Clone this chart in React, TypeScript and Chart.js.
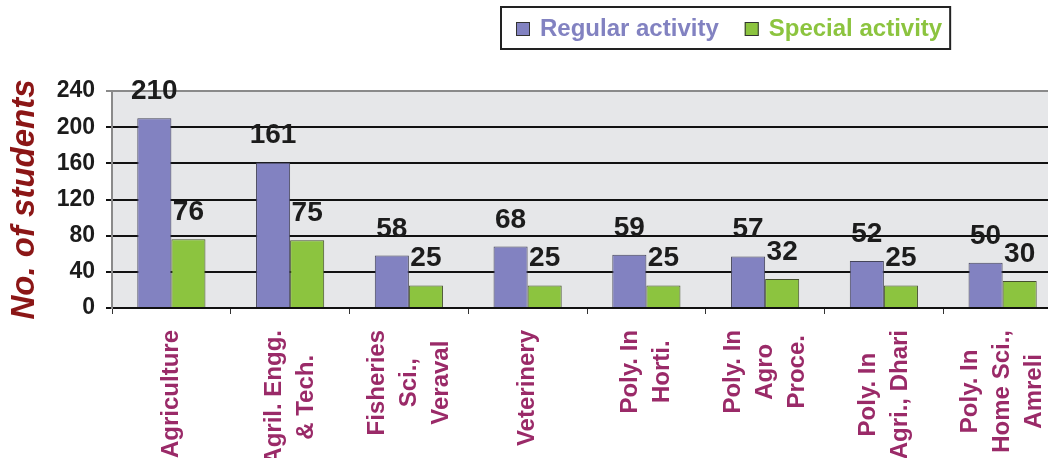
import React, { useEffect, useRef } from "react";
import { Chart, registerables } from "chart.js";

Chart.register(...registerables);

const categories: string[][] = [
  ["Agriculture"],
  ["Agril. Engg.", "& Tech."],
  ["Fisheries", "Sci.,", "Veraval"],
  ["Veterinery"],
  ["Poly. In", "Horti."],
  ["Poly. In", "Agro", "Proce."],
  ["Poly. In", "Agri., Dhari"],
  ["Poly. In", "Home Sci.,", "Amreli"],
];
const seriesNames = ["Regular activity", "Special activity"];
const regularActivity = [210, 161, 58, 68, 59, 57, 52, 50];
const specialActivity = [76, 75, 25, 25, 25, 32, 25, 30];
const yTicks = [0, 40, 80, 120, 160, 200, 240];

const FONT = "'Liberation Sans', Arial, Helvetica, sans-serif";
const PURPLE = "#8282c1";
const GREEN = "#8cc43f";
const LABEL_COLOR = "#9a2a68";
const TITLE_COLOR = "#8b1616";

const bgPlugin = {
  id: "plotBg",
  beforeDraw(chart: any) {
    const { ctx, chartArea } = chart;
    ctx.save();
    ctx.fillStyle = "#e6e7e9";
    ctx.fillRect(chartArea.left, chartArea.top, chartArea.right - chartArea.left, chartArea.bottom - chartArea.top);
    ctx.restore();
  },
};

const valueLabelPlugin = {
  id: "valueLabels",
  afterDatasetsDraw(chart: any) {
    const { ctx } = chart;
    ctx.save();
    ctx.font = `bold 28px ${FONT}`;
    ctx.fillStyle = "#1c1c1c";
    ctx.textAlign = "center";
    ctx.textBaseline = "alphabetic";
    chart.data.datasets.forEach((ds: any, di: number) => {
      const meta = chart.getDatasetMeta(di);
      meta.data.forEach((bar: any, i: number) => {
        ctx.fillText(String(ds.data[i]), bar.x, bar.y - 19);
      });
    });
    ctx.restore();
  },
};

const xLabelPlugin = {
  id: "xLabels",
  afterDraw(chart: any) {
    const { ctx } = chart;
    const xs = chart.scales.x;
    const top = xs.top + 22;
    const spacing = 32;
    ctx.save();
    ctx.font = `bold 24px ${FONT}`;
    ctx.fillStyle = LABEL_COLOR;
    ctx.textAlign = "center";
    ctx.textBaseline = "middle";
    categories.forEach((lines, i) => {
      const cx = xs.getPixelForValue(i);
      const w = Math.max(...lines.map((l) => ctx.measureText(l).width));
      lines.forEach((line, j) => {
        ctx.save();
        ctx.translate(cx + (j - (lines.length - 1) / 2) * spacing, top + w / 2);
        ctx.rotate(-Math.PI / 2);
        ctx.fillText(line, 0, 0);
        ctx.restore();
      });
    });
    ctx.restore();
  },
};

const legendPlugin = {
  id: "boxLegend",
  afterDraw(chart: any) {
    const { ctx } = chart;
    const left = 501;
    const top = 7;
    const h = 42;
    ctx.save();
    ctx.font = `bold 24px ${FONT}`;
    const items = chart.data.datasets.map((ds: any) => ({
      text: ds.label,
      color: ds.backgroundColor,
      w: ctx.measureText(ds.label).width,
    }));
    let total = 15;
    items.forEach((it: any, k: number) => {
      total += 24 + it.w + (k < items.length - 1 ? 26 : 8);
    });
    ctx.fillStyle = "#ffffff";
    ctx.fillRect(left, top, total, h);
    ctx.lineWidth = 2;
    ctx.strokeStyle = "#222222";
    ctx.strokeRect(left, top, total, h);
    let x = left + 15;
    items.forEach((it: any) => {
      ctx.fillStyle = it.color;
      ctx.fillRect(x, top + 15, 14, 14);
      ctx.lineWidth = 1;
      ctx.strokeStyle = "#333333";
      ctx.strokeRect(x + 0.5, top + 15.5, 13, 13);
      ctx.fillStyle = it.color;
      ctx.textAlign = "left";
      ctx.textBaseline = "alphabetic";
      ctx.fillText(it.text, x + 24, top + 29);
      x += 24 + it.w + 26;
    });
    ctx.restore();
  },
};

export default function App() {
  const ref = useRef<HTMLCanvasElement | null>(null);
  useEffect(() => {
    if (!ref.current) return;
    const chart = new Chart(ref.current, {
      type: "bar",
      data: {
        labels: categories.map((c) => c.join(" ")),
        datasets: [
          {
            label: seriesNames[0],
            data: regularActivity,
            backgroundColor: PURPLE,
            borderColor: "#44445a",
            borderWidth: 1,
            categoryPercentage: 0.574,
            barPercentage: 1,
          },
          {
            label: seriesNames[1],
            data: specialActivity,
            backgroundColor: GREEN,
            borderColor: "#45502e",
            borderWidth: 1,
            categoryPercentage: 0.574,
            barPercentage: 1,
          },
        ],
      },
      options: {
        animation: false,
        responsive: false,
        maintainAspectRatio: false,
        layout: { padding: { top: 91, left: 0, right: 0, bottom: 0 } },
        plugins: {
          legend: { display: false },
          tooltip: { enabled: false },
          title: { display: false },
        },
        scales: {
          x: {
            grid: {
              drawOnChartArea: false,
              drawTicks: true,
              tickLength: 6,
              color: "#333333",
              lineWidth: 1,
              offset: true,
            },
            border: { display: true, color: "#111111", width: 2 },
            ticks: { display: false },
            afterFit(scale: any) {
              scale.height = 150;
            },
          },
          y: {
            min: 0,
            max: 240,
            afterBuildTicks(scale: any) {
              scale.ticks = yTicks.map((v) => ({ value: v }));
            },
            afterFit(scale: any) {
              scale.width = 112;
            },
            grid: {
              color: (c: any) => (c.tick && c.tick.value === 240 ? "#8a8a8a" : "#111111"),
              lineWidth: 2,
              tickLength: 6,
            },
            border: { display: true, color: "#8a8a8a", width: 2 },
            ticks: {
              padding: 11,
              color: "#1c1c1c",
              font: { family: FONT, size: 23, weight: "bold" },
            },
            title: {
              display: true,
              text: "No. of students",
              color: TITLE_COLOR,
              font: { family: FONT, size: 33, weight: "bold", style: "italic", lineHeight: 1.2 },
              padding: { top: 5, bottom: 0 },
            },
          },
        },
      },
      plugins: [bgPlugin, valueLabelPlugin, xLabelPlugin, legendPlugin],
    } as any);
    return () => chart.destroy();
  }, []);
  return (
    <div style={{ position: "fixed", left: 0, top: 0, width: 1048, height: 458, overflow: "hidden", background: "#ffffff" }}>
      <canvas ref={ref} width={1062} height={458} style={{ display: "block", width: 1062, height: 458 }} />
    </div>
  );
}
